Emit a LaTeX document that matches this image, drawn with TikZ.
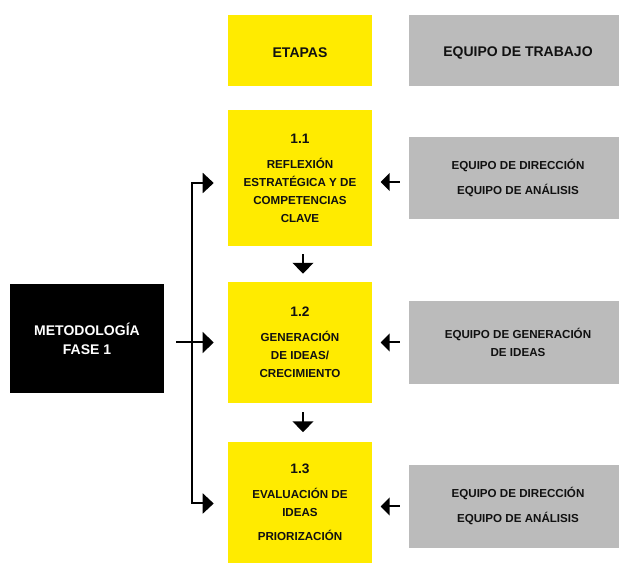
\documentclass[tikz,border=0pt]{standalone}
\usepackage{fontspec}
\setmainfont{Liberation Sans}
\usetikzlibrary{arrows.meta,calc}
\definecolor{ylw}{HTML}{FFEB00}
\definecolor{gry}{HTML}{BBBBBB}
\definecolor{ink}{HTML}{111111}
\newcommand{\numfont}{\fontsize{10.3}{13.5}\selectfont}
\newcommand{\hdrfont}{\bfseries\fontsize{10.5}{15}\selectfont}
\newcommand{\dropdown}[1]{\raisebox{-1.8pt}[\height][\depth]{#1}}
\begin{document}
\begin{tikzpicture}[x=0.75pt,y=-0.75pt,
  box/.style={draw=none, inner sep=0pt, align=center,
    font=\bfseries\fontsize{8.7}{13.5}\selectfont, text=ink},
  stage/.style={box, fill=ylw, minimum width=108pt},
  team/.style={box, fill=gry, minimum width=163.5pt},
  lead/.style={box, fill=black, text=white, minimum width=115.5pt,
    minimum height=81.75pt, font=\hdrfont},
  conn/.style={line width=1.5pt, line join=miter, draw=black},
  arr/.style={conn, -{Triangle[length=8.25pt,width=15.5pt]}},
  arrg/.style={conn, -{Triangle[length=6.75pt,width=13.5pt]}},
  bus/.style={conn, {Triangle[length=8.25pt,width=15pt]}-{Triangle[length=8.25pt,width=15pt]}}
]
\useasboundingbox (0,0) rectangle (619,563);
\fill[white] (0,0) rectangle (619,563);

% headers
\node[stage, minimum height=53.25pt, font=\hdrfont] (h1) at (300,50.5) {\dropdown{ETAPAS}};
\node[team, minimum height=53.25pt, font=\hdrfont] (h2) at (518,50.5) {\dropdown{EQUIPO DE TRABAJO}};

% stages
\node[stage, minimum height=102pt] (b1) at (300,178)
  {{\numfont 1.1}\\[5.1pt]REFLEXIÓN\\ESTRATÉGICA Y DE\\COMPETENCIAS\\CLAVE};
\node[stage, minimum height=90.75pt] (b2) at (300,342.5)
  {{\numfont 1.2}\\[5.1pt]GENERACIÓN\\DE IDEAS/\\CRECIMIENTO};
\node[stage, minimum height=90.75pt] (b3) at (300,502.5)
  {{\numfont 1.3}\\[5.1pt]EVALUACIÓN DE\\IDEAS\\[5pt]PRIORIZACIÓN};

% teams
\node[team, minimum height=61.5pt] (g1) at (518,178)
  {EQUIPO DE DIRECCIÓN\\[5.25pt]EQUIPO DE ANÁLISIS};
\node[team, minimum height=62.25pt] (g2) at (518,342.5)
  {EQUIPO DE GENERACIÓN\\DE IDEAS};
\node[team, minimum height=62.25pt] (g3) at (518,506.5)
  {EQUIPO DE DIRECCIÓN\\[5.25pt]EQUIPO DE ANÁLISIS};

% lead
\node[lead] (m) at (87,338.5) {\dropdown{\begin{tabular}{@{}c@{}}METODOLOGÍA\\[-0.2pt]FASE 1\end{tabular}}};

% down arrows
\draw[arr] ($(b1.south)+(3,8)$) -- ($(b1.south)+(3,27.5)$);
\draw[arr] ($(b2.south)+(3,9)$) -- ($(b2.south)+(3,29)$);

% bus to stages 1.1 and 1.3
\draw[bus] ($(b1.west)+(-14,5)$) -- ($(b1.west)+(-36,5)$)
  -- ($(b3.west)+(-36,1)$) -- ($(b3.west)+(-14,1)$);
% lead to stage 1.2
\coordinate (mo) at ($(m.east)+(12,0)$);
\draw[arr] (mo |- b2.west) -- ($(b2.west)+(-14,0)$);

% team arrows
\draw[arrg] ($(g1.west)+(-9,4)$) -- ($(g1.west)+(-28,4)$);
\draw[arrg] ($(g2.west)+(-9,0)$) -- ($(g2.west)+(-28,0)$);
\draw[arrg] ($(g3.west)+(-9,0)$) -- ($(g3.west)+(-28,0)$);
\end{tikzpicture}
\end{document}
